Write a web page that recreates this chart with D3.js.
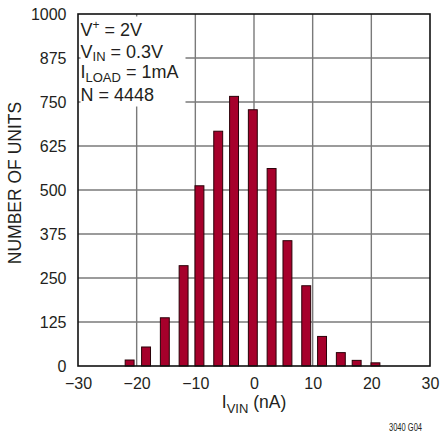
<!DOCTYPE html>
<html><head><meta charset="utf-8">
<script src="https://cdn.jsdelivr.net/npm/d3@7"></script>
<style>
html,body{margin:0;padding:0;background:#fff;}
text{font-family:"Liberation Sans",Arial,sans-serif;fill:#231f20;}
</style></head>
<body><svg id="c" width="440" height="436"></svg>
<script>
const binCenters = [-21.2,-18.4,-15.2,-12.0,-9.3,-6.1,-3.4,-0.2,3.0,5.7,8.9,11.6,14.8,17.5,20.7];
const unitCounts = [17,54,137,285,512,667,766,728,561,356,228,84,38,16,9];
const xTicks = [-30,-20,-10,0,10,20,30];
const yTicks = [0,125,250,375,500,625,750,875,1000];
const xTitle = {main:"I", sub:"VIN", rest:" (nA)"};
const yTitle = "NUMBER OF UNITS";
const noteLines = [
  [{t:"V"},{t:"+",sup:true},{t:" = 2V"}],
  [{t:"V"},{t:"IN",sub:true},{t:" = 0.3V"}],
  [{t:"I"},{t:"LOAD",sub:true},{t:" = 1mA"}],
  [{t:"N = 4448"}]
];
const figId = "3040 G04";

const L=78,R=430,T=14,B=366;
const svg=d3.select("#c");
const x=d3.scaleLinear().domain([-30,30]).range([L,R]);
const y=d3.scaleLinear().domain([0,1000]).range([B,T]);
const barW = 1.52; // nA

// gridlines
const g=svg.append("g");
g.selectAll(".vx").data(xTicks.slice(1,-1)).enter().append("line")
 .attr("x1",d=>x(d)).attr("x2",d=>x(d)).attr("y1",T).attr("y2",B)
 .attr("stroke","#7a7a7a").attr("stroke-width",1.4);
g.selectAll(".hy").data(yTicks.slice(1,-1)).enter().append("line")
 .attr("y1",d=>y(d)).attr("y2",d=>y(d)).attr("x1",L).attr("x2",R)
 .attr("stroke","#7a7a7a").attr("stroke-width",1.4);

// white note box
svg.append("rect").attr("x",80.5).attr("y",16.5).attr("width",105).attr("height",90).attr("fill","#fff");

// bars
svg.selectAll(".bar").data(binCenters).enter().append("rect")
 .attr("x",(d)=>x(d-barW/2)).attr("width",(d)=>x(barW)-x(0))
 .attr("y",(d,i)=>y(unitCounts[i])).attr("height",(d,i)=>y(0)-y(unitCounts[i]))
 .attr("fill","#a6002b").attr("stroke","#2a0008").attr("stroke-width",1);

// frame
svg.append("rect").attr("x",L).attr("y",T).attr("width",R-L).attr("height",B-T)
 .attr("fill","none").attr("stroke","#111").attr("stroke-width",1.6);

// axes labels via d3 axis
const fmt=d=>d<0?"\u2212"+Math.abs(d):String(d);
const xa=svg.append("g").attr("transform",`translate(0,${B})`)
 .call(d3.axisBottom(x).tickValues(xTicks).tickFormat(fmt).tickSize(0).tickPadding(0));
xa.select(".domain").remove();
xa.selectAll("text").attr("font-size",16).attr("fill","#231f20").attr("font-family",null).attr("dy",null).attr("y",22.5);
const ya=svg.append("g").attr("transform",`translate(${L},0)`)
 .call(d3.axisLeft(y).tickValues(yTicks).tickFormat(d=>String(d)).tickSize(0).tickPadding(11.5));
ya.select(".domain").remove();
ya.selectAll("text").attr("font-size",16).attr("fill","#231f20").attr("font-family",null);

// y title
svg.append("text").attr("transform","translate(21,183) rotate(-90)")
 .attr("text-anchor","middle").attr("font-size",17.5).text(yTitle);

// x title
const xt=svg.append("text").attr("x",254).attr("y",408).attr("text-anchor","middle").attr("font-size",17.5);
xt.append("tspan").text(xTitle.main);
xt.append("tspan").attr("font-size",13).attr("dy",4.5).text(xTitle.sub);
xt.append("tspan").attr("dy",-4.5).text(xTitle.rest);

// note
const baselines=[36,57.5,78,101];
noteLines.forEach((ln,i)=>{
  const t=svg.append("text").attr("x",80.5).attr("y",baselines[i]).attr("font-size",18);
  let shift=0;
  ln.forEach(p=>{
    const ts=t.append("tspan").text(p.t);
    let target=0;
    if(p.sup){ts.attr("font-size",12);target=-7;}
    else if(p.sub){ts.attr("font-size",13);target=3.5;}
    ts.attr("dy",target-shift); shift=target;
  });
});

// fig id
svg.append("text").attr("x",389).attr("y",431).attr("font-size",11)
 .attr("textLength",33).attr("lengthAdjust","spacingAndGlyphs").text(figId);
</script></body></html>
